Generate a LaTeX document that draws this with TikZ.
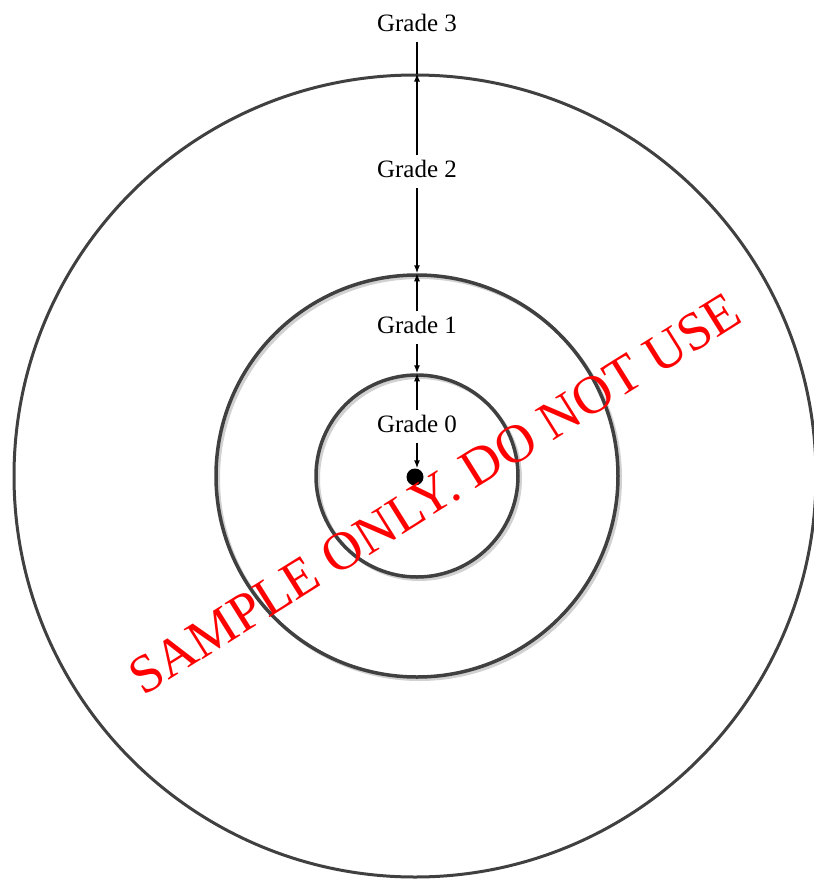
\documentclass[tikz,border=0pt]{standalone}
\usepackage{fontspec}
\setmainfont{Liberation Serif}
\usepackage{tikz}
\usetikzlibrary{arrows.meta, positioning}

\begin{document}
\begin{tikzpicture}[
  x=1pt, y=-1pt,
  grade/.style={font=\fontsize{25}{30}\selectfont, inner sep=4pt,
                text depth=7pt, anchor=base},
  ring/.style={draw=black!75, circle, inner sep=0pt},
  shade/.style={draw=black!18, line width=3pt},
  arr/.style={-{Latex[length=8pt, width=6pt]}, line width=1.4pt},
  plain/.style={line width=1.4pt},
  stamp/.style={text=red, font=\fontsize{54}{60}\selectfont, anchor=base},
]
  \useasboundingbox (0,0) rectangle (814,884);

  % soft shadows under the two inner rings
  \draw[shade] (419.5,478.5) circle (201);
  \draw[shade] (419.5,478.5) circle (101);

  \node[ring, line width=3pt, minimum size=802pt] (outer) at (415,476) {};
  \node[ring, line width=3.5pt, minimum size=402pt] (mid) at (417,476) {};
  \node[ring, line width=3.5pt, minimum size=202pt] (inner) at (417,476) {};
  \node[circle, fill=black, minimum size=17pt, inner sep=0pt] (dot) at (415,477) {};

  \node[grade] (g3) at (417,31) {Grade 3};
  \node[grade] (g2) at (417,177) {Grade 2};
  \node[grade] (g1) at (417,333) {Grade 1};
  \node[grade] (g0) at (417,432) {Grade 0};

  \draw[plain] (g3.south) -- (g3.south |- outer.north);
  \draw[arr] (g2.north) -- (g2.north |- outer.north);
  \draw[arr] (g2.south) -- (mid.north);
  \draw[arr] (g1.north) -- (mid.north);
  \draw[arr] (g1.south) -- (inner.north);
  \draw[arr] (g0.north) -- (inner.north);
  \draw[arr] (g0.south) -- (g0.south |- dot.north);

  \node[stamp, rotate=32] (sample) at (444,509) {SAMPLE ONLY. DO NOT USE};
\end{tikzpicture}
\end{document}
